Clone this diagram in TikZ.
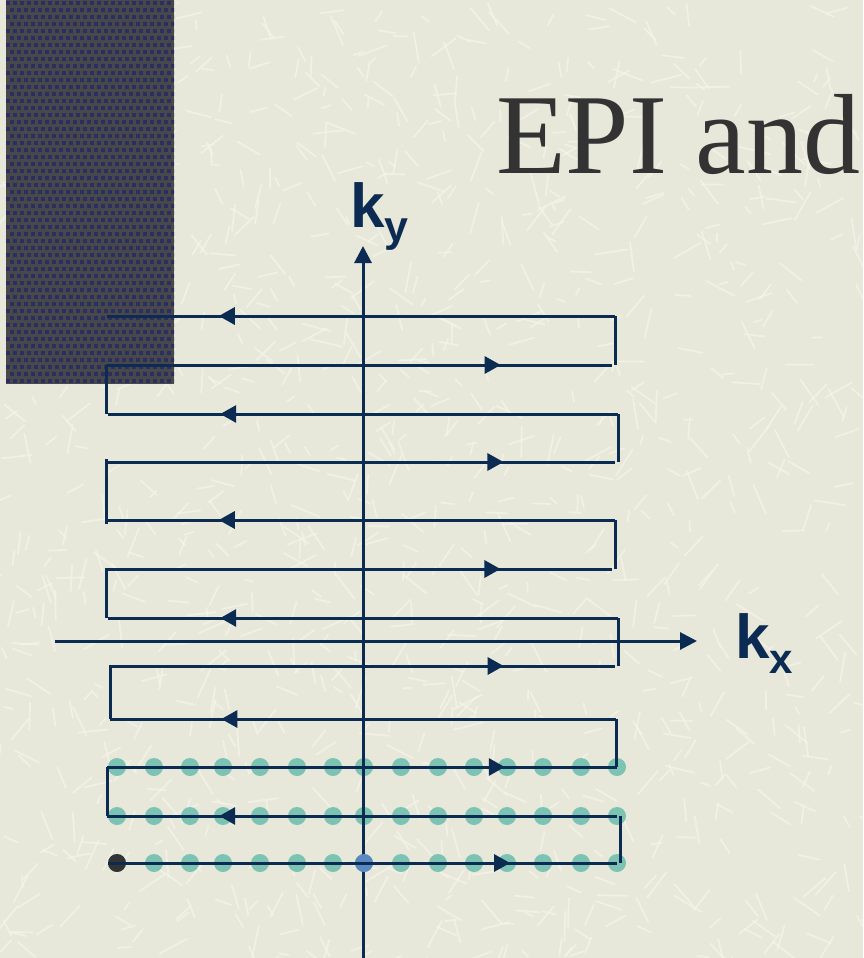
\documentclass[tikz,border=0pt]{standalone}
\usepackage{fontspec}
\setmainfont{Liberation Serif}
\newfontfamily\arialfont{Liberation Sans}
\usetikzlibrary{arrows.meta,decorations.markings}
\definecolor{bgc}{HTML}{E7E7DA}
\definecolor{streakc}{HTML}{F5F5EC}
\definecolor{darkbase}{HTML}{48474A}
\definecolor{darksq}{HTML}{2A2F62}
\definecolor{navy}{HTML}{0B2B52}
\definecolor{titlec}{HTML}{333333}
\definecolor{tealc}{HTML}{7CC3B3}
\definecolor{bluec}{HTML}{5A88C0}
\definecolor{blackc}{HTML}{333333}
\tikzset{
  trj/.style={draw=navy, line width=3pt},
  trjarrow/.style={postaction={decorate}, decoration={markings,
     mark=at position #1 with {\arrow[navy]{Triangle[length=16pt,width=17pt]}}}},
  axisline/.style={draw=navy, line width=3pt, -{Triangle[length=17pt,width=17pt]}},
  sample/.style={circle, fill=tealc, minimum size=18pt, inner sep=0pt, draw=none},
  lbl/.style={inner sep=0pt, anchor=base west, text=navy},
  streak/.style={draw=streakc, line width=1.8pt, opacity=0.65, line cap=round},
}
\begin{document}
\begin{tikzpicture}[x=1pt,y=-1pt]
\useasboundingbox (0,0) rectangle (863,958);
\begin{scope}
\clip (0,0) rectangle (863,958);
\fill[bgc] (0,0) rectangle (863,958);
\pgfmathsetseed{7}
\foreach \i in {1,...,1100} {
  \pgfmathsetmacro\xa{rnd*863}
  \pgfmathsetmacro\ya{rnd*958}
  \pgfmathsetmacro\an{rnd*180}
  \pgfmathsetmacro\le{8+rnd*24}
  \draw[streak] (\xa,\ya) -- ++({\le*cos(\an)},{\le*sin(\an)});
}
\end{scope}
% dark panel
\begin{scope}
\clip (6,0) rectangle (174,384);
\fill[darkbase] (6,0) rectangle (174,384);
\foreach \r in {0,...,55} {
  \pgfmathsetmacro\off{mod(\r,2)*3.5}
  \foreach \c in {0,...,24} {
    \fill[darksq] ({6+\off+\c*7},{1+\r*7}) rectangle ++(4,4);
  }
}
\end{scope}
% title
\node[inner sep=0pt, anchor=base west, text=titlec, font=\fontsize{114}{114}\selectfont] (title) at (496,173) {EPI and};
% row coordinates
\foreach \n/\y/\xl/\xr in {A/316/107/615, B/365/106/612, C/414/108/618, D/462/108/615,
  E/520/107/615, F/569/105/612, G/618/108/618, H/666/109/615, I/719/110/616,
  J/767/107/617, K/816/107/617, L/863/108/617} {
  \coordinate (\n l) at (\xl,\y);
  \coordinate (\n r) at (\xr,\y);
}
% sample dots
\foreach \yy in {767,816,863} {
  \foreach \xx in {117,154,190,223,260,297,333,364,401,438,474,507,543,581,617} {
    \node[sample] at (\xx,\yy) {};
  }
}
% axes
\coordinate (kxs) at (55,641);
\coordinate (kxe) at (697,641);
\coordinate (kys) at (363,958);
\coordinate (kye) at (363,246);
\draw[axisline] (kxs) -- (kxe);
\draw[axisline] (kys) -- (kye);
\node[sample, fill=bluec] (origin) at (364,863) {};
\node[sample, fill=blackc] (start) at (117,863) {};
% trajectory rows
\draw[trj, trjarrow=0.79] (Ll) -- (Lr);
\draw[trj, trjarrow=0.78] (Kr) -- (Kl);
\draw[trj, trjarrow=0.78] (Jl) -- (Jr);
\draw[trj, trjarrow=0.78] (Ir) -- (Il);
\draw[trj, trjarrow=0.78] (Hl) -- (Hr);
\draw[trj, trjarrow=0.78] (Gr) -- (Gl);
\draw[trj, trjarrow=0.78] (Fl) -- (Fr);
\draw[trj, trjarrow=0.78] (Er) -- (El);
\draw[trj, trjarrow=0.78] (Dl) -- (Dr);
\draw[trj, trjarrow=0.78] (Cr) -- (Cl);
\draw[trj, trjarrow=0.78] (Bl) -- (Br);
\draw[trj, trjarrow=0.78] (Ar) -- (Al);
% turns
\draw[trj] ([xshift=3pt]Kr) -- ([xshift=3pt]Kr |- Lr);
\draw[trj] (Jl) -- (Jl |- Kl);
\draw[trj] (Ir) -- (Ir |- Jr);
\draw[trj] (Il) -- (Il |- Hl);
\draw[trj] (Gr) -- (Gr |- Hr);
\draw[trj] ([xshift=1pt]Fl) -- ([xshift=1pt]Fl |- Gl);
\draw[trj] (Er) -- (Er |- Fr);
\draw[trj] ([xshift=-2pt,yshift=3pt]Dl) -- ([xshift=-2pt,yshift=-4pt]Dl |- El);
\draw[trj] (Cr) -- (Cr |- Dr);
\draw[trj] (Bl) -- (Bl |- Cl);
\draw[trj] (Ar) -- (Ar |- Br);
% labels
\node[lbl, font=\arialfont\bfseries\fontsize{62}{62}\selectfont] (ky) at (350,227) {k\raisebox{-14pt}{\fontsize{43}{43}\selectfont y}};
\node[lbl, font=\arialfont\bfseries\fontsize{62}{62}\selectfont] (kx) at (735,658) {k\raisebox{-15pt}{\fontsize{42}{42}\selectfont x}};
\end{tikzpicture}
\end{document}
